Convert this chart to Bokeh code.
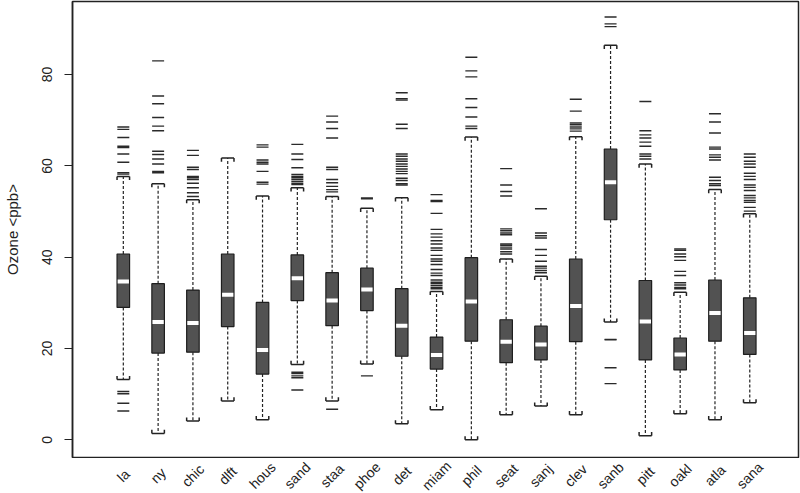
import math
from bokeh.plotting import figure
from bokeh.layouts import column
from bokeh.models import Range1d, FixedTicker, ColumnDataSource
from bokeh.core.properties import value
from bokeh.embed import file_html
from bokeh.resources import INLINE

cities = ["la", "ny", "chic", "dlft", "hous", "sand", "staa", "phoe", "det", "miam",
          "phil", "seat", "sanj", "clev", "sanb", "pitt", "oakl", "atla", "sana"]
q1 = [29.0, 19.0, 19.2, 24.8, 14.4, 30.5, 25.0, 28.3, 18.3, 15.5,
      21.6, 16.9, 17.5, 21.5, 48.2, 17.5, 15.3, 21.6, 18.7]
med = [34.7, 25.8, 25.6, 31.8, 19.7, 35.4, 30.5, 32.9, 25.0, 18.6,
       30.3, 21.5, 20.9, 29.3, 56.4, 25.9, 18.7, 27.8, 23.4]
q3 = [40.7, 34.2, 32.8, 40.7, 30.1, 40.5, 36.6, 37.6, 33.1, 22.5,
      39.9, 26.3, 24.9, 39.6, 63.7, 34.9, 22.3, 35.0, 31.1]
whisk_lo = [13.2, 1.4, 4.1, 8.5, 4.4, 16.5, 8.5, 16.6, 3.5, 6.6,
            0.0, 5.5, 7.4, 5.5, 25.8, 0.9, 5.7, 4.4, 8.1]
whisk_hi = [57.7, 56.1, 52.6, 61.7, 53.4, 55.2, 53.3, 50.7, 53.0, 32.5,
            66.3, 39.6, 35.8, 66.4, 86.4, 60.4, 32.3, 54.8, 49.5]
outliers = [
    [58.2, 58.5, 60.8, 62.6, 64.0, 64.3, 66.2, 68.0, 68.5, 10.6, 10.1, 8.0, 6.3],
    [83.0, 75.3, 73.6, 70.6, 68.7, 67.7, 63.2, 62.5, 61.5, 60.4, 58.8, 58.5],
    [63.4, 62.3, 59.7, 59.2, 57.7, 57.4, 57.0, 56.2, 55.2, 54.1, 53.3],
    [],
    [64.6, 64.1, 61.3, 60.8, 60.4, 58.8, 56.4, 56.0],
    [64.7, 62.6, 61.4, 59.6, 58.1, 57.7, 57.4, 57.0, 56.6, 56.2, 55.9,
     14.8, 14.5, 14.0, 13.6, 10.9],
    [70.9, 69.6, 68.2, 66.1, 59.7, 59.2, 57.0, 56.3, 55.5, 54.8, 54.3, 6.7],
    [53.0, 52.8, 14.0],
    [76.0, 74.7, 74.4, 69.1, 68.2, 62.6, 62.1, 61.5, 61.0, 60.4, 59.9, 59.3,
     58.8, 58.3, 57.3, 56.8, 56.1, 55.8],
    [53.7, 52.4, 52.2, 49.6, 46.1, 45.1, 44.4, 43.6, 42.9, 42.0, 41.5, 40.4,
     39.6, 39.1, 38.4, 37.3, 36.5, 36.0, 35.0, 34.5, 34.2, 33.8, 33.4, 33.1],
    [83.8, 80.8, 79.5, 74.7, 72.8, 70.7, 68.7, 68.2],
    [59.4, 55.8, 54.4, 53.4, 46.2, 45.8, 45.3, 44.9, 42.9, 42.6, 42.2, 41.8,
     41.2, 40.7],
    [50.6, 45.3, 44.7, 44.2, 41.7, 40.4, 39.1, 38.0, 37.6, 37.1, 36.6],
    [74.6, 72.0, 69.4, 69.0, 68.5, 68.1, 67.6],
    [92.6, 91.1, 90.5, 22.0, 21.9, 15.8, 12.3],
    [74.1, 67.7, 66.8, 66.1, 65.2, 64.3, 62.6, 62.1, 61.5],
    [41.8, 41.5, 40.7, 40.1, 39.3, 36.9, 36.0, 34.4, 33.9, 33.4, 33.1],
    [71.4, 69.6, 67.2, 64.1, 63.7, 62.4, 61.9, 61.3, 57.5, 56.8, 56.1, 55.7],
    [62.6, 61.9, 61.0, 60.4, 59.7, 58.4, 57.7, 57.0, 55.8, 55.3, 54.6, 53.5,
     53.0, 52.4, 52.0, 50.9, 50.1],
]
y_ticks = [0, 20, 40, 60, 80]
y_label = "Ozone <ppb>"

FONT = "Liberation Sans"
BW = 0.36
CAPH = 0.8
W = 800
BL, BR = 70, 2
LAB_H = 35

xs = list(range(1, len(cities) + 1))
xr = Range1d(-0.46, 20.40)

p = figure(width=W, height=458, output_backend="svg", toolbar_location=None,
           x_range=xr, y_range=Range1d(-3.87, 96.0),
           min_border_left=BL, min_border_right=BR, min_border_top=1,
           min_border_bottom=1)
p.grid.visible = False
p.outline_line_color = "#222222"
p.outline_line_width = 1.5
p.background_fill_color = "white"
p.border_fill_color = "white"
p.xaxis.visible = False

# y axis
p.yaxis.ticker = FixedTicker(ticks=y_ticks)
p.yaxis.major_label_orientation = "vertical"
p.yaxis.major_label_text_font = FONT
p.yaxis.major_label_text_font_size = "14px"
p.yaxis.major_label_text_color = "#222222"
p.yaxis.major_tick_out = 8
p.yaxis.major_tick_in = 0
p.yaxis.minor_tick_line_color = None
p.yaxis.major_label_standoff = 12
p.yaxis.axis_line_color = "#222222"
p.yaxis.axis_line_width = 1.5
p.yaxis.major_tick_line_color = "#222222"
p.yaxis.axis_label = y_label
p.yaxis.axis_label_text_font = FONT
p.yaxis.axis_label_text_font_style = "normal"
p.yaxis.axis_label_text_font_size = "15px"
p.yaxis.axis_label_text_color = "#222222"
p.yaxis.axis_label_standoff = 19

src = ColumnDataSource(dict(
    x=xs, q1=q1, med=med, q3=q3, lo=whisk_lo, hi=whisk_hi,
    xl=[x - BW / 2 for x in xs], xr=[x + BW / 2 for x in xs],
    ml=[x - BW * 0.45 for x in xs], mr=[x + BW * 0.45 for x in xs],
    hi_t=[h - CAPH for h in whisk_hi], lo_t=[l + CAPH for l in whisk_lo],
))

# whiskers
p.segment(x0="x", y0="q3", x1="x", y1="hi", source=src, line_color="#222222",
          line_width=1.2, line_dash="3 2")
p.segment(x0="x", y0="q1", x1="x", y1="lo", source=src, line_color="#222222",
          line_width=1.2, line_dash="3 2")
# caps (staples)
for yk, tk in (("hi", "hi_t"), ("lo", "lo_t")):
    p.segment(x0="xl", y0=yk, x1="xr", y1=yk, source=src, line_color="#222222", line_width=1.5)
    p.segment(x0="xl", y0=yk, x1="xl", y1=tk, source=src, line_color="#222222", line_width=1.5)
    p.segment(x0="xr", y0=yk, x1="xr", y1=tk, source=src, line_color="#222222", line_width=1.5)

# boxes
p.vbar(x="x", width=BW, bottom="q1", top="q3", source=src, fill_color="#525252",
       line_color="#1e1e1e", line_width=1.2)
# medians
p.segment(x0="ml", y0="med", x1="mr", y1="med", source=src, line_color="white",
          line_width=4)

# outliers
ox, oy = [], []
for x, vals in zip(xs, outliers):
    for v in vals:
        ox.append(x)
        oy.append(v)
p.scatter(ox, oy, marker="dash", size=12, line_color="#2a2a2a", line_width=1.4)

# strip with rotated category labels, sharing the x scale
p2 = figure(width=W, height=LAB_H, output_backend="svg", toolbar_location=None,
            x_range=xr, y_range=Range1d(0, LAB_H),
            min_border_left=BL, min_border_right=BR, min_border_top=0,
            min_border_bottom=0)
p2.axis.visible = False
p2.grid.visible = False
p2.outline_line_color = None
p2.background_fill_color = "white"
p2.border_fill_color = "white"
lab = ColumnDataSource(dict(x=xs, y=[LAB_H - 17] * len(xs), text=cities))
p2.text(x="x", y="y", text="text", source=lab, angle=math.pi / 4,
        text_align="center", text_baseline="middle", text_font=value(FONT),
        text_font_size="14px", text_color="#222222")

layout = column(p, p2, spacing=0)
open("out.html", "w").write(file_html(layout, INLINE))
